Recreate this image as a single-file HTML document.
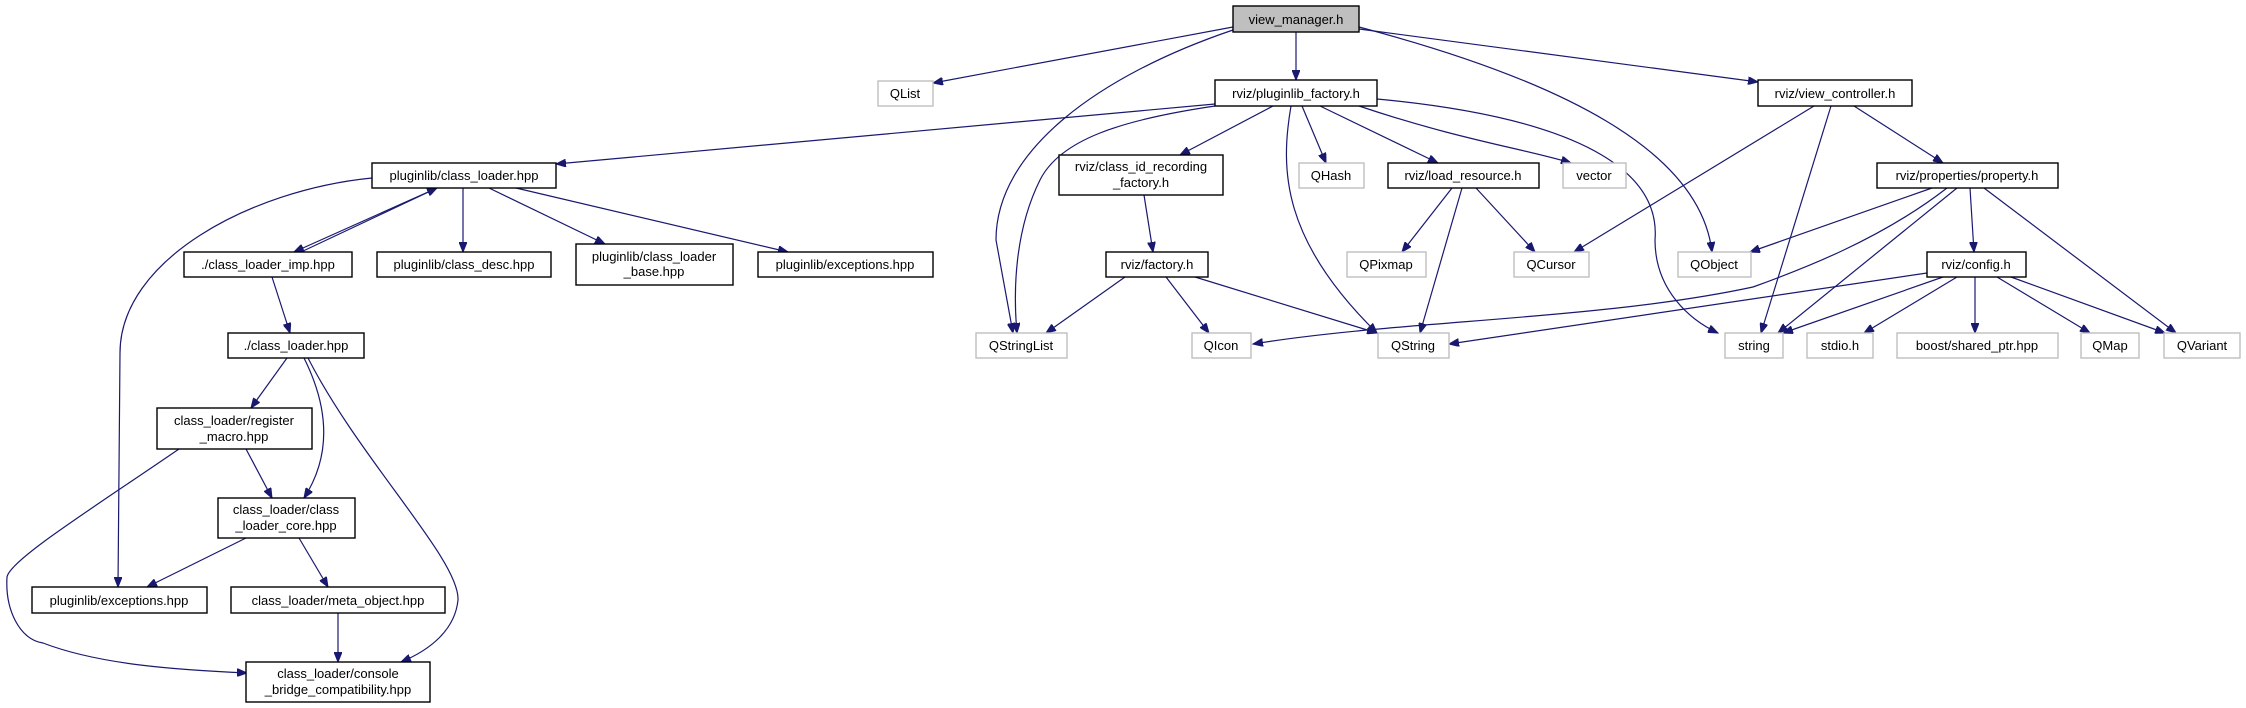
<!DOCTYPE html>
<html><head><meta charset="utf-8"><style>
html,body{margin:0;padding:0;background:#fff;}
svg{display:block;}
text{font-family:"Liberation Sans",sans-serif;font-size:13px;fill:#000;text-anchor:middle;}
.b{fill:#fff;stroke:#000;stroke-width:1.4;}
.g{fill:#fff;stroke:#bfbfbf;stroke-width:1.4;}
.e{fill:none;stroke:#191970;stroke-width:1.2;marker-end:url(#a);}
</style></head><body>
<svg width="2246" height="708" viewBox="0 0 2246 708" xmlns="http://www.w3.org/2000/svg">
<defs><marker id="a" markerUnits="userSpaceOnUse" markerWidth="11" markerHeight="8" refX="10" refY="4" orient="auto"><path d="M0,0 L10,4 L0,8 z" fill="#191970" stroke="#191970"/></marker></defs>

<!-- edges -->
<path class="e" d="M1233,27 L933,83"/>
<path class="e" d="M1233,30 C1100,75 996,150 996,240 L1013,333"/>
<path class="e" d="M1296,32 L1296,80"/>
<path class="e" d="M1359,27 C1560,80 1700,150 1712,252"/>
<path class="e" d="M1359,29 L1758,82"/>
<path class="e" d="M1215,104 L556,164"/>
<path class="e" d="M1215,106 C1120,120 1060,140 1040,180 C1015,230 1013,290 1017,333"/>
<path class="e" d="M1273,106 L1180,155"/>
<path class="e" d="M1291,106 C1280,170 1282,240 1377,333"/>
<path class="e" d="M1302,106 L1326,163"/>
<path class="e" d="M1320,106 L1438,163"/>
<path class="e" d="M1359,106 C1460,140 1530,150 1571,163"/>
<path class="e" d="M1377,99 C1600,120 1660,180 1655,240 C1655,290 1690,320 1718,333"/>
<path class="e" d="M1814,106 L1574,252"/>
<path class="e" d="M1831,106 L1761,333"/>
<path class="e" d="M1854,106 L1943,163"/>
<path class="e" d="M1144,195 L1153,252"/>
<path class="e" d="M1125,277 L1046,333"/>
<path class="e" d="M1166,277 L1209,333"/>
<path class="e" d="M1195,277 L1377,333"/>
<path class="e" d="M1452,188 L1402,252"/>
<path class="e" d="M1462,188 L1420,333"/>
<path class="e" d="M1476,188 L1535,252"/>
<path class="e" d="M1932,188 L1750,252"/>
<path class="e" d="M1947,188 C1880,240 1800,270 1753,287 C1600,320 1400,320 1253,344"/>
<path class="e" d="M1957,188 L1778,333"/>
<path class="e" d="M1970,188 L1974,252"/>
<path class="e" d="M1984,188 L2176,333"/>
<path class="e" d="M1927,273 L1449,344"/>
<path class="e" d="M1943,277 L1783,333"/>
<path class="e" d="M1957,277 L1864,333"/>
<path class="e" d="M1975,277 L1975,333"/>
<path class="e" d="M1997,277 L2090,333"/>
<path class="e" d="M2011,277 L2165,333"/>
<path class="e" d="M372,178 C250,190 120,260 120,353 L118,587"/>
<path class="e" d="M437,188 L294,252"/>
<path class="e" d="M301,252 L437,188"/>
<path class="e" d="M463,188 L463,252"/>
<path class="e" d="M489,188 L605,244"/>
<path class="e" d="M516,188 L788,252"/>
<path class="e" d="M272,277 L290,333"/>
<path class="e" d="M287,358 L251,408"/>
<path class="e" d="M304,358 C325,400 335,450 304,498"/>
<path class="e" d="M308,358 C360,460 460,560 458,600 C455,630 430,650 401,662"/>
<path class="e" d="M246,449 L272,498"/>
<path class="e" d="M179,449 C90,510 10,560 7,577 C5,610 20,640 43,643 C100,665 180,670 247,673"/>
<path class="e" d="M246,538 L147,587"/>
<path class="e" d="M299,538 L328,587"/>
<path class="e" d="M338,613 L338,662"/>

<!-- nodes -->
<rect x="1233" y="6" width="126" height="26" fill="#bfbfbf" stroke="#000" stroke-width="1.4"/><text x="1296" y="24">view_manager.h</text>
<rect class="g" x="878" y="81" width="55" height="25"/><text x="905" y="98">QList</text>
<rect class="b" x="1215" y="80" width="162" height="26"/><text x="1296" y="98">rviz/pluginlib_factory.h</text>
<rect class="b" x="1758" y="80" width="154" height="26"/><text x="1835" y="98">rviz/view_controller.h</text>
<rect class="b" x="372" y="163" width="184" height="25"/><text x="464" y="180">pluginlib/class_loader.hpp</text>
<rect class="b" x="1059" y="155" width="164" height="40"/><text x="1141" y="171">rviz/class_id_recording</text><text x="1141" y="187">_factory.h</text>
<rect class="g" x="1299" y="163" width="65" height="25"/><text x="1331" y="180">QHash</text>
<rect class="b" x="1388" y="163" width="151" height="25"/><text x="1463" y="180">rviz/load_resource.h</text>
<rect class="g" x="1563" y="163" width="63" height="25"/><text x="1594" y="180">vector</text>
<rect class="b" x="1877" y="163" width="181" height="25"/><text x="1967" y="180">rviz/properties/property.h</text>
<rect class="b" x="184" y="252" width="168" height="25"/><text x="268" y="269">./class_loader_imp.hpp</text>
<rect class="b" x="377" y="252" width="174" height="25"/><text x="464" y="269">pluginlib/class_desc.hpp</text>
<rect class="b" x="576" y="244" width="157" height="41"/><text x="654" y="261">pluginlib/class_loader</text><text x="654" y="276">_base.hpp</text>
<rect class="b" x="758" y="252" width="175" height="25"/><text x="845" y="269">pluginlib/exceptions.hpp</text>
<rect class="b" x="1106" y="252" width="102" height="25"/><text x="1157" y="269">rviz/factory.h</text>
<rect class="g" x="1347" y="252" width="79" height="25"/><text x="1386" y="269">QPixmap</text>
<rect class="g" x="1514" y="252" width="75" height="25"/><text x="1551" y="269">QCursor</text>
<rect class="g" x="1678" y="252" width="73" height="25"/><text x="1714" y="269">QObject</text>
<rect class="b" x="1927" y="252" width="99" height="25"/><text x="1976" y="269">rviz/config.h</text>
<rect class="b" x="228" y="333" width="136" height="25"/><text x="296" y="350">./class_loader.hpp</text>
<rect class="g" x="976" y="333" width="91" height="25"/><text x="1021" y="350">QStringList</text>
<rect class="g" x="1192" y="333" width="59" height="25"/><text x="1221" y="350">QIcon</text>
<rect class="g" x="1378" y="333" width="71" height="25"/><text x="1413" y="350">QString</text>
<rect class="g" x="1725" y="333" width="58" height="25"/><text x="1754" y="350">string</text>
<rect class="g" x="1807" y="333" width="66" height="25"/><text x="1840" y="350">stdio.h</text>
<rect class="g" x="1897" y="333" width="161" height="25"/><text x="1977" y="350">boost/shared_ptr.hpp</text>
<rect class="g" x="2081" y="333" width="58" height="25"/><text x="2110" y="350">QMap</text>
<rect class="g" x="2164" y="333" width="76" height="25"/><text x="2202" y="350">QVariant</text>
<rect class="b" x="157" y="408" width="155" height="41"/><text x="234" y="425">class_loader/register</text><text x="234" y="441">_macro.hpp</text>
<rect class="b" x="218" y="498" width="137" height="40"/><text x="286" y="514">class_loader/class</text><text x="286" y="530">_loader_core.hpp</text>
<rect class="b" x="32" y="587" width="175" height="26"/><text x="119" y="605">pluginlib/exceptions.hpp</text>
<rect class="b" x="231" y="587" width="214" height="26"/><text x="338" y="605">class_loader/meta_object.hpp</text>
<rect class="b" x="246" y="662" width="184" height="40"/><text x="338" y="678">class_loader/console</text><text x="338" y="694">_bridge_compatibility.hpp</text>
</svg>
</body></html>
